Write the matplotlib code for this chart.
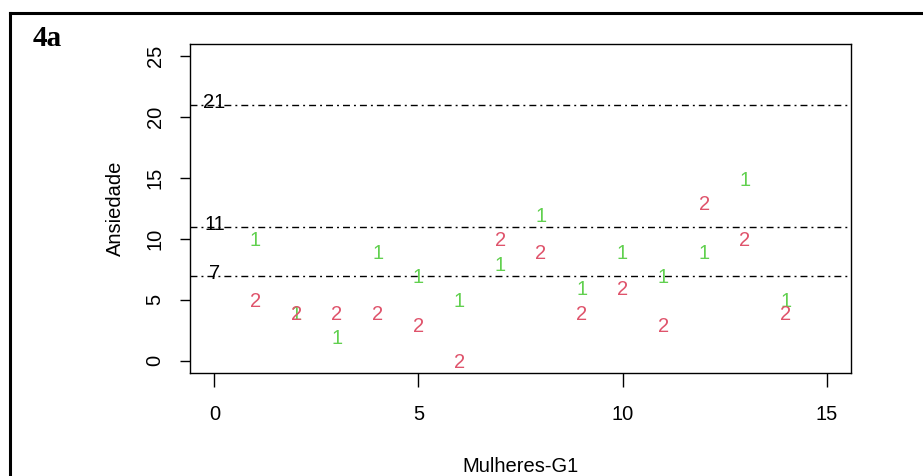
import matplotlib
matplotlib.use("Agg")
import matplotlib.pyplot as plt
from matplotlib.lines import Line2D
from matplotlib.transforms import offset_copy

# Anxiety scores per participant, two measurement occasions
participants = [1, 2, 3, 4, 5, 6, 7, 8, 9, 10, 11, 12, 13, 14]
scores_1 = [10, 4, 2, 9, 7, 5, 8, 12, 6, 9, 7, 9, 15, 5]
scores_2 = [5, 4, 4, 4, 3, 0, 10, 9, 4, 6, 3, 13, 10, 4]
cutoffs = [7, 11, 21]

x_ticks = [0, 5, 10, 15]
y_ticks = [0, 5, 10, 15, 20, 25]

GREEN = "#61D04F"
RED = "#DF536B"
FS = 14.5

plt.rcParams["font.family"] = ["Liberation Sans", "DejaVu Sans"]

fig = plt.figure(figsize=(9.23, 4.76), dpi=100)
ax = fig.add_axes([190 / 923, 1 - 373 / 476, (851 - 190) / 923, (373 - 44) / 476])
ax.set_xlim(-0.6, 15.6)
ax.set_ylim(-1.0, 26.0)

# cut-off lines with their values
for c in cutoffs:
    ax.axhline(c, color="black", lw=1.0, linestyle=(0, (5.0, 2.9, 1.4, 2.9)))
    ax.text(0, c, str(c), fontsize=FS, ha="center", va="center_baseline",
            transform=offset_copy(ax.transData, fig=fig, x=0, y=4, units="dots"))

for x, y in zip(participants, scores_1):
    ax.text(x, y, "1", color=GREEN, fontsize=FS, ha="center", va="center_baseline")
for x, y in zip(participants, scores_2):
    ax.text(x, y, "2", color=RED, fontsize=FS, ha="center", va="center_baseline")

for s in ax.spines.values():
    s.set_linewidth(1.0)

ax.set_xticks(x_ticks)
ax.set_xticklabels([str(t) for t in x_ticks], fontsize=FS)
ax.set_yticks(y_ticks)
ax.set_yticklabels([str(t) for t in y_ticks], fontsize=FS, rotation=90, va="center")
ax.tick_params(axis="x", length=10, width=1, pad=13)
ax.tick_params(axis="y", length=7.2, width=1, pad=11)

ax.set_xlabel("Mulheres-G1", fontsize=FS)
ax.set_ylabel("Ansiedade", fontsize=FS)
ax.xaxis.set_label_coords(0.5, -(467 - 373) / 329, transform=ax.transAxes)
ax.yaxis.set_label_coords(-(190 - 115) / 661, 0.5, transform=ax.transAxes)
ax.xaxis.label.set_va("center")
ax.yaxis.label.set_va("center")

# panel frame and tag
fig.add_artist(Line2D([10 / 923, 10 / 923], [0, 1 - 13 / 476], transform=fig.transFigure,
                      color="black", lw=2.2, solid_capstyle="projecting"))
fig.add_artist(Line2D([10 / 923, 1], [1 - 13 / 476, 1 - 13 / 476], transform=fig.transFigure,
                      color="black", lw=2.2, solid_capstyle="projecting"))
fig.text(33 / 923, 1 - 35 / 476, "4a", fontsize=21, fontweight="bold",
         family=["Liberation Serif", "DejaVu Serif"], ha="left", va="center_baseline")

fig.savefig("out.png", dpi=100)
